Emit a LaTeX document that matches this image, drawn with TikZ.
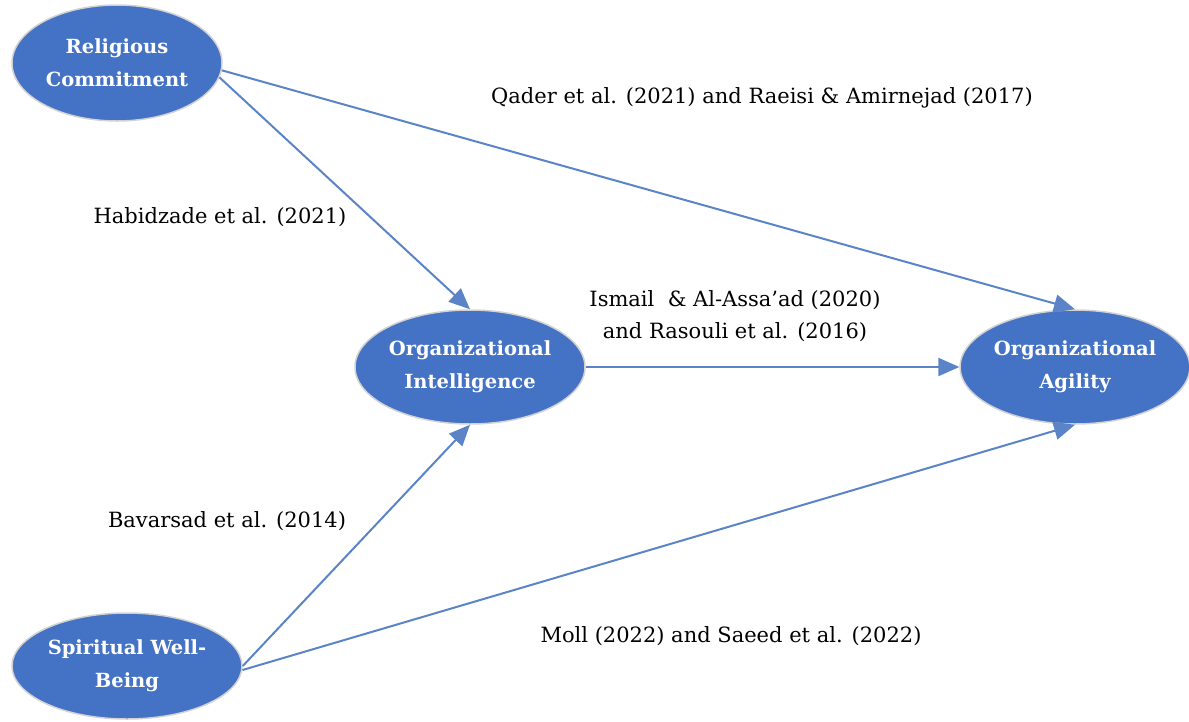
\documentclass[tikz,border=0pt]{standalone}
\usepackage{fontspec}
\setmainfont{DejaVu Serif}
\usetikzlibrary{shapes.geometric,arrows.meta}
\definecolor{nodeblue}{HTML}{4472C4}
\definecolor{linkblue}{HTML}{5B84C8}
\tikzset{
  construct/.style={ellipse, fill=nodeblue, draw=gray!35, line width=1.5pt,
    text=white, font=\fontsize{19.5}{33}\selectfont\bfseries, align=center, inner sep=0pt},
  link/.style={draw=linkblue, line width=2pt, -{Triangle[length=21pt,width=18pt]}},
  cite/.style={font=\fontsize{21}{32}\selectfont, text=black, align=center, inner sep=0pt}
}
\begin{document}
\begin{tikzpicture}[x=1pt,y=-1pt]
\useasboundingbox (0,0) rectangle (1189,721);
\node[construct, minimum width=210pt, minimum height=116pt] (rc) at (117,63) {Religious\\Commitment};
\node[construct, minimum width=230pt, minimum height=114pt] (oi) at (470,367) {Organizational\\Intelligence};
\node[construct, minimum width=226pt, minimum height=114pt] (oa) at (1075,367) {Organizational\\Agility};
\node[construct, minimum width=230pt, minimum height=106pt] (swb) at (127,666) {Spiritual Well-\\Being};

\draw[link] (rc.-8) -- (oi.north);
\draw[link] (rc.-4) -- (oa.north);
\draw[link] (oi.east) -- (oa.west);
\draw[link] (swb.east) -- (oi.south);
\draw[link] (swb.-2) -- (oa.south);

\node[cite] (c1) at (762,98) {Qader et al. (2021) and Raeisi \& Amirnejad (2017)};
\node[cite] (c2) at (220,217) {Habidzade et al. (2021)};
\node[cite] (c3) at (735,316) {Ismail\ \ \& Al-Assa’ad (2020)\\and Rasouli et al. (2016)};
\node[cite] (c4) at (227,521) {Bavarsad et al. (2014)};
\node[cite] (c5) at (731,636) {Moll (2022) and Saeed et al. (2022)};
\end{tikzpicture}
\end{document}
